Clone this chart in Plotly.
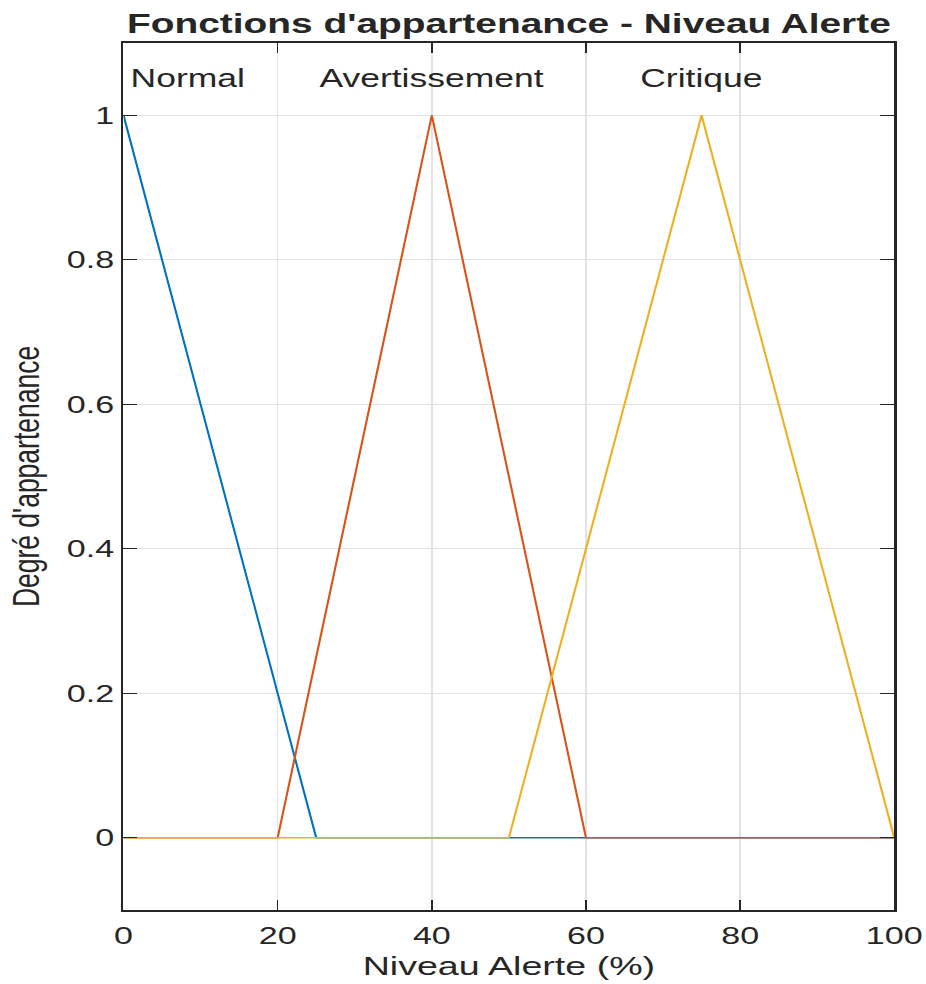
import plotly.graph_objects as go

# Membership functions for the alert level (x in %, y = membership degree)
normal_x = [0, 25, 100]
normal_y = [1, 0, 0]
avert_x = [0, 20, 40, 60, 100]
avert_y = [0, 0, 1, 0, 0]
crit_x = [0, 50, 75, 100]
crit_y = [0, 0, 1, 0]

series_names = ["Normal", "Avertissement", "Critique"]
series_colors = ["#0072BD", "#D95319", "#EDB120"]

# Set labels shown above the curves
label_text = ["Normal", "Avertissement", "Critique"]
label_x = [8.4, 40, 75]
label_y = [1.052, 1.052, 1.052]

x_ticks = [0, 20, 40, 60, 80, 100]
y_ticks = [0, 0.2, 0.4, 0.6, 0.8, 1]
y_tick_text = ["0", "0.2", "0.4", "0.6", "0.8", "1"]

# The figure is laid out narrow and widened horizontally on the page
BASE_W = 662
BASE_H = 988
STRETCH = 1.4195

FONT = "Liberation Sans, Arial, Helvetica, sans-serif"
INK = "#262626"

fig = go.Figure()
for xs, ys, name, col in zip([normal_x, avert_x, crit_x],
                             [normal_y, avert_y, crit_y],
                             series_names, series_colors):
    fig.add_trace(go.Scatter(x=xs, y=ys, mode="lines", name=name,
                             line=dict(color=col, width=1.5),
                             cliponaxis=False, showlegend=False))

for t, x, y in zip(label_text, label_x, label_y):
    fig.add_annotation(x=x, y=y, text=t, showarrow=False,
                       xanchor="center", yanchor="middle",
                       font=dict(family=FONT, size=25, color=INK))

axis_common = dict(
    showline=True, linecolor=INK, linewidth=1.6, mirror="ticks",
    ticks="inside", ticklen=10, tickcolor=INK, tickwidth=1.2,
    showgrid=True, gridcolor="#e3e3e3", gridwidth=1,
    zeroline=False,
    tickfont=dict(family=FONT, size=24, color=INK),
)

fig.update_xaxes(range=[0, 100], tickvals=x_ticks, ticklabelstandoff=3,
                 title=dict(text="Niveau Alerte (%)",
                            font=dict(family=FONT, size=26.5, color=INK),
                            standoff=8.5),
                 **axis_common)
fig.update_yaxes(range=[-0.1, 1.1], tickvals=y_ticks, ticktext=y_tick_text,
                 title=dict(text="Degré d'appartenance",
                            font=dict(family=FONT, size=26.5, color=INK),
                            standoff=11),
                 **axis_common)

fig.update_layout(
    width=BASE_W, height=BASE_H,
    margin=dict(l=87, r=22, t=43, b=71),
    paper_bgcolor="white", plot_bgcolor="white",
    title=dict(text="<b>Fonctions d'appartenance - Niveau Alerte</b>",
               x=0.5, xref="paper", xanchor="center",
               y=1 - 33 / BASE_H, yref="container", yanchor="bottom",
               font=dict(family=FONT, size=27.4, color=INK)),
)

# Widen the rendered figure horizontally across the page
post = (
    "document.documentElement.style.overflow = 'hidden';"
    "document.body.style.margin = '0';"
    "document.body.style.overflow = 'hidden';"
    "var gd = document.getElementById('{plot_id}');"
    "gd.style.overflow = 'hidden';"
    "gd.style.transformOrigin = '0 0';"
    "gd.style.transform = 'scaleX(%.5f)';" % STRETCH
)

fig.write_html("out.html", post_script=post)
